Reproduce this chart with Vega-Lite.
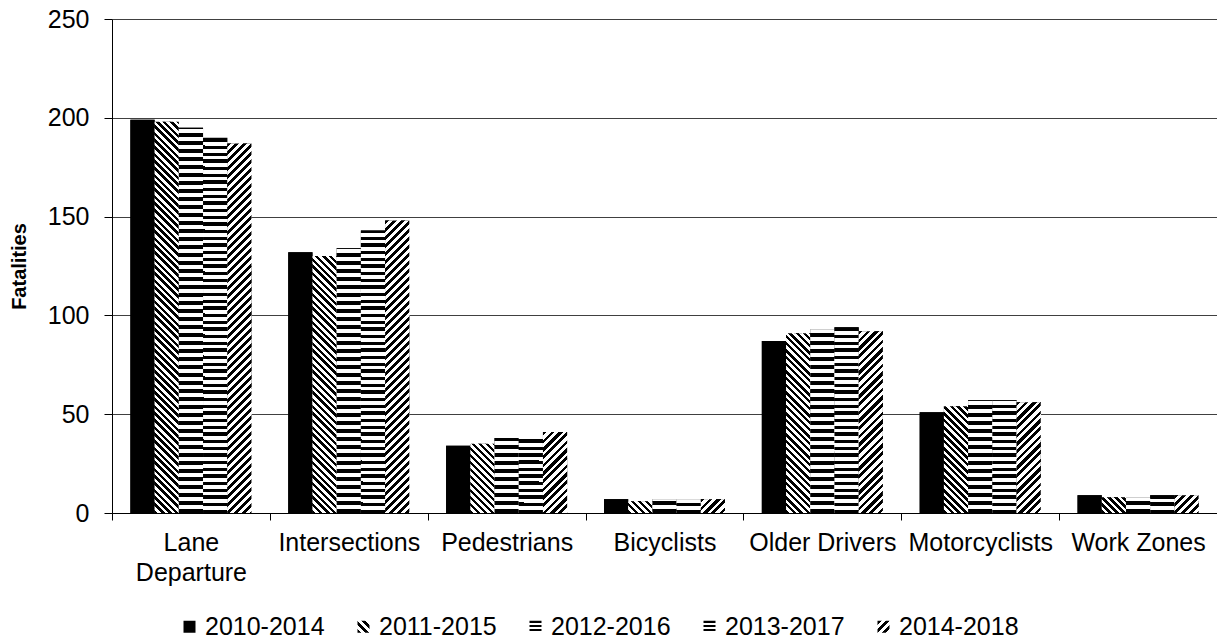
{
  "$schema": "https://vega.github.io/schema/vega-lite/v6.json",
  "width": 1105,
  "height": 494,
  "autosize": {"type": "none"},
  "padding": {"left": 112, "top": 19, "right": 0, "bottom": 131},
  "background": "#ffffff",
  "config": {
    "view": {"stroke": null},
    "font": "Liberation Sans"
  },
  "params": [
    {
      "name": "swatch",
      "value": [{"offset":0,"color":"#000"},{"offset":0.167,"color":"#000"},{"offset":0.167,"color":"#fff"},{"offset":0.333,"color":"#fff"},{"offset":0.333,"color":"#000"},{"offset":0.5,"color":"#000"},{"offset":0.5,"color":"#fff"},{"offset":0.667,"color":"#fff"},{"offset":0.667,"color":"#000"},{"offset":0.833,"color":"#000"},{"offset":0.833,"color":"#fff"},{"offset":1,"color":"#fff"}]
    },
    {
      "name": "stripes",
      "value": [
        {"offset":0,"color":"#000"},
        {"offset":0.008,"color":"#000"},{"offset":0.008,"color":"#fff"},{"offset":0.017,"color":"#fff"},{"offset":0.017,"color":"#000"},{"offset":0.025,"color":"#000"},{"offset":0.025,"color":"#fff"},{"offset":0.033,"color":"#fff"},{"offset":0.033,"color":"#000"},{"offset":0.042,"color":"#000"},{"offset":0.042,"color":"#fff"},{"offset":0.05,"color":"#fff"},{"offset":0.05,"color":"#000"},{"offset":0.058,"color":"#000"},{"offset":0.058,"color":"#fff"},{"offset":0.067,"color":"#fff"},{"offset":0.067,"color":"#000"},{"offset":0.075,"color":"#000"},{"offset":0.075,"color":"#fff"},{"offset":0.083,"color":"#fff"},{"offset":0.083,"color":"#000"},{"offset":0.092,"color":"#000"},{"offset":0.092,"color":"#fff"},{"offset":0.1,"color":"#fff"},{"offset":0.1,"color":"#000"},
        {"offset":0.108,"color":"#000"},{"offset":0.108,"color":"#fff"},{"offset":0.117,"color":"#fff"},{"offset":0.117,"color":"#000"},{"offset":0.125,"color":"#000"},{"offset":0.125,"color":"#fff"},{"offset":0.133,"color":"#fff"},{"offset":0.133,"color":"#000"},{"offset":0.142,"color":"#000"},{"offset":0.142,"color":"#fff"},{"offset":0.15,"color":"#fff"},{"offset":0.15,"color":"#000"},{"offset":0.158,"color":"#000"},{"offset":0.158,"color":"#fff"},{"offset":0.167,"color":"#fff"},{"offset":0.167,"color":"#000"},{"offset":0.175,"color":"#000"},{"offset":0.175,"color":"#fff"},{"offset":0.183,"color":"#fff"},{"offset":0.183,"color":"#000"},{"offset":0.192,"color":"#000"},{"offset":0.192,"color":"#fff"},{"offset":0.2,"color":"#fff"},{"offset":0.2,"color":"#000"},
        {"offset":0.208,"color":"#000"},{"offset":0.208,"color":"#fff"},{"offset":0.217,"color":"#fff"},{"offset":0.217,"color":"#000"},{"offset":0.225,"color":"#000"},{"offset":0.225,"color":"#fff"},{"offset":0.233,"color":"#fff"},{"offset":0.233,"color":"#000"},{"offset":0.242,"color":"#000"},{"offset":0.242,"color":"#fff"},{"offset":0.25,"color":"#fff"},{"offset":0.25,"color":"#000"},{"offset":0.258,"color":"#000"},{"offset":0.258,"color":"#fff"},{"offset":0.267,"color":"#fff"},{"offset":0.267,"color":"#000"},{"offset":0.275,"color":"#000"},{"offset":0.275,"color":"#fff"},{"offset":0.283,"color":"#fff"},{"offset":0.283,"color":"#000"},{"offset":0.292,"color":"#000"},{"offset":0.292,"color":"#fff"},{"offset":0.3,"color":"#fff"},{"offset":0.3,"color":"#000"},
        {"offset":0.308,"color":"#000"},{"offset":0.308,"color":"#fff"},{"offset":0.317,"color":"#fff"},{"offset":0.317,"color":"#000"},{"offset":0.325,"color":"#000"},{"offset":0.325,"color":"#fff"},{"offset":0.333,"color":"#fff"},{"offset":0.333,"color":"#000"},{"offset":0.342,"color":"#000"},{"offset":0.342,"color":"#fff"},{"offset":0.35,"color":"#fff"},{"offset":0.35,"color":"#000"},{"offset":0.358,"color":"#000"},{"offset":0.358,"color":"#fff"},{"offset":0.367,"color":"#fff"},{"offset":0.367,"color":"#000"},{"offset":0.375,"color":"#000"},{"offset":0.375,"color":"#fff"},{"offset":0.383,"color":"#fff"},{"offset":0.383,"color":"#000"},{"offset":0.392,"color":"#000"},{"offset":0.392,"color":"#fff"},{"offset":0.4,"color":"#fff"},{"offset":0.4,"color":"#000"},
        {"offset":0.408,"color":"#000"},{"offset":0.408,"color":"#fff"},{"offset":0.417,"color":"#fff"},{"offset":0.417,"color":"#000"},{"offset":0.425,"color":"#000"},{"offset":0.425,"color":"#fff"},{"offset":0.433,"color":"#fff"},{"offset":0.433,"color":"#000"},{"offset":0.442,"color":"#000"},{"offset":0.442,"color":"#fff"},{"offset":0.45,"color":"#fff"},{"offset":0.45,"color":"#000"},{"offset":0.458,"color":"#000"},{"offset":0.458,"color":"#fff"},{"offset":0.467,"color":"#fff"},{"offset":0.467,"color":"#000"},{"offset":0.475,"color":"#000"},{"offset":0.475,"color":"#fff"},{"offset":0.483,"color":"#fff"},{"offset":0.483,"color":"#000"},{"offset":0.492,"color":"#000"},{"offset":0.492,"color":"#fff"},{"offset":0.5,"color":"#fff"},{"offset":0.5,"color":"#000"},
        {"offset":0.508,"color":"#000"},{"offset":0.508,"color":"#fff"},{"offset":0.517,"color":"#fff"},{"offset":0.517,"color":"#000"},{"offset":0.525,"color":"#000"},{"offset":0.525,"color":"#fff"},{"offset":0.533,"color":"#fff"},{"offset":0.533,"color":"#000"},{"offset":0.542,"color":"#000"},{"offset":0.542,"color":"#fff"},{"offset":0.55,"color":"#fff"},{"offset":0.55,"color":"#000"},{"offset":0.558,"color":"#000"},{"offset":0.558,"color":"#fff"},{"offset":0.567,"color":"#fff"},{"offset":0.567,"color":"#000"},{"offset":0.575,"color":"#000"},{"offset":0.575,"color":"#fff"},{"offset":0.583,"color":"#fff"},{"offset":0.583,"color":"#000"},{"offset":0.592,"color":"#000"},{"offset":0.592,"color":"#fff"},{"offset":0.6,"color":"#fff"},{"offset":0.6,"color":"#000"},
        {"offset":0.608,"color":"#000"},{"offset":0.608,"color":"#fff"},{"offset":0.617,"color":"#fff"},{"offset":0.617,"color":"#000"},{"offset":0.625,"color":"#000"},{"offset":0.625,"color":"#fff"},{"offset":0.633,"color":"#fff"},{"offset":0.633,"color":"#000"},{"offset":0.642,"color":"#000"},{"offset":0.642,"color":"#fff"},{"offset":0.65,"color":"#fff"},{"offset":0.65,"color":"#000"},{"offset":0.658,"color":"#000"},{"offset":0.658,"color":"#fff"},{"offset":0.667,"color":"#fff"},{"offset":0.667,"color":"#000"},{"offset":0.675,"color":"#000"},{"offset":0.675,"color":"#fff"},{"offset":0.683,"color":"#fff"},{"offset":0.683,"color":"#000"},{"offset":0.692,"color":"#000"},{"offset":0.692,"color":"#fff"},{"offset":0.7,"color":"#fff"},{"offset":0.7,"color":"#000"},
        {"offset":0.708,"color":"#000"},{"offset":0.708,"color":"#fff"},{"offset":0.717,"color":"#fff"},{"offset":0.717,"color":"#000"},{"offset":0.725,"color":"#000"},{"offset":0.725,"color":"#fff"},{"offset":0.733,"color":"#fff"},{"offset":0.733,"color":"#000"},{"offset":0.742,"color":"#000"},{"offset":0.742,"color":"#fff"},{"offset":0.75,"color":"#fff"},{"offset":0.75,"color":"#000"},{"offset":0.758,"color":"#000"},{"offset":0.758,"color":"#fff"},{"offset":0.767,"color":"#fff"},{"offset":0.767,"color":"#000"},{"offset":0.775,"color":"#000"},{"offset":0.775,"color":"#fff"},{"offset":0.783,"color":"#fff"},{"offset":0.783,"color":"#000"},{"offset":0.792,"color":"#000"},{"offset":0.792,"color":"#fff"},{"offset":0.8,"color":"#fff"},{"offset":0.8,"color":"#000"},
        {"offset":0.808,"color":"#000"},{"offset":0.808,"color":"#fff"},{"offset":0.817,"color":"#fff"},{"offset":0.817,"color":"#000"},{"offset":0.825,"color":"#000"},{"offset":0.825,"color":"#fff"},{"offset":0.833,"color":"#fff"},{"offset":0.833,"color":"#000"},{"offset":0.842,"color":"#000"},{"offset":0.842,"color":"#fff"},{"offset":0.85,"color":"#fff"},{"offset":0.85,"color":"#000"},{"offset":0.858,"color":"#000"},{"offset":0.858,"color":"#fff"},{"offset":0.867,"color":"#fff"},{"offset":0.867,"color":"#000"},{"offset":0.875,"color":"#000"},{"offset":0.875,"color":"#fff"},{"offset":0.883,"color":"#fff"},{"offset":0.883,"color":"#000"},{"offset":0.892,"color":"#000"},{"offset":0.892,"color":"#fff"},{"offset":0.9,"color":"#fff"},{"offset":0.9,"color":"#000"},
        {"offset":0.908,"color":"#000"},{"offset":0.908,"color":"#fff"},{"offset":0.917,"color":"#fff"},{"offset":0.917,"color":"#000"},{"offset":0.925,"color":"#000"},{"offset":0.925,"color":"#fff"},{"offset":0.933,"color":"#fff"},{"offset":0.933,"color":"#000"},{"offset":0.942,"color":"#000"},{"offset":0.942,"color":"#fff"},{"offset":0.95,"color":"#fff"},{"offset":0.95,"color":"#000"},{"offset":0.958,"color":"#000"},{"offset":0.958,"color":"#fff"},{"offset":0.967,"color":"#fff"},{"offset":0.967,"color":"#000"},{"offset":0.975,"color":"#000"},{"offset":0.975,"color":"#fff"},{"offset":0.983,"color":"#fff"},{"offset":0.983,"color":"#000"},{"offset":0.992,"color":"#000"},{"offset":0.992,"color":"#fff"},{"offset":1,"color":"#fff"}
      ]
    }
  ],
  "data": {
    "values": [
      {"Category": "Lane Departure", "Period": "2010-2014", "Fatalities": 199},
      {"Category": "Lane Departure", "Period": "2011-2015", "Fatalities": 198},
      {"Category": "Lane Departure", "Period": "2012-2016", "Fatalities": 195},
      {"Category": "Lane Departure", "Period": "2013-2017", "Fatalities": 190},
      {"Category": "Lane Departure", "Period": "2014-2018", "Fatalities": 187},
      {"Category": "Intersections", "Period": "2010-2014", "Fatalities": 132},
      {"Category": "Intersections", "Period": "2011-2015", "Fatalities": 130},
      {"Category": "Intersections", "Period": "2012-2016", "Fatalities": 134},
      {"Category": "Intersections", "Period": "2013-2017", "Fatalities": 143},
      {"Category": "Intersections", "Period": "2014-2018", "Fatalities": 148},
      {"Category": "Pedestrians", "Period": "2010-2014", "Fatalities": 34},
      {"Category": "Pedestrians", "Period": "2011-2015", "Fatalities": 35},
      {"Category": "Pedestrians", "Period": "2012-2016", "Fatalities": 38},
      {"Category": "Pedestrians", "Period": "2013-2017", "Fatalities": 38},
      {"Category": "Pedestrians", "Period": "2014-2018", "Fatalities": 41},
      {"Category": "Bicyclists", "Period": "2010-2014", "Fatalities": 7},
      {"Category": "Bicyclists", "Period": "2011-2015", "Fatalities": 6},
      {"Category": "Bicyclists", "Period": "2012-2016", "Fatalities": 7},
      {"Category": "Bicyclists", "Period": "2013-2017", "Fatalities": 7},
      {"Category": "Bicyclists", "Period": "2014-2018", "Fatalities": 7},
      {"Category": "Older Drivers", "Period": "2010-2014", "Fatalities": 87},
      {"Category": "Older Drivers", "Period": "2011-2015", "Fatalities": 91},
      {"Category": "Older Drivers", "Period": "2012-2016", "Fatalities": 93},
      {"Category": "Older Drivers", "Period": "2013-2017", "Fatalities": 94},
      {"Category": "Older Drivers", "Period": "2014-2018", "Fatalities": 92},
      {"Category": "Motorcyclists", "Period": "2010-2014", "Fatalities": 51},
      {"Category": "Motorcyclists", "Period": "2011-2015", "Fatalities": 54},
      {"Category": "Motorcyclists", "Period": "2012-2016", "Fatalities": 57},
      {"Category": "Motorcyclists", "Period": "2013-2017", "Fatalities": 57},
      {"Category": "Motorcyclists", "Period": "2014-2018", "Fatalities": 56},
      {"Category": "Work Zones", "Period": "2010-2014", "Fatalities": 9},
      {"Category": "Work Zones", "Period": "2011-2015", "Fatalities": 8},
      {"Category": "Work Zones", "Period": "2012-2016", "Fatalities": 8},
      {"Category": "Work Zones", "Period": "2013-2017", "Fatalities": 9},
      {"Category": "Work Zones", "Period": "2014-2018", "Fatalities": 9}
    ]
  },
  "encoding": {
    "x": {
      "field": "Category",
      "type": "nominal",
      "sort": ["Lane Departure", "Intersections", "Pedestrians", "Bicyclists", "Older Drivers", "Motorcyclists", "Work Zones"],
      "scale": {"paddingInner": 0, "paddingOuter": 0},
      "axis": {
        "title": null,
        "labelAngle": 0,
        "tickBand": "extent",
        "tickSize": 7,
        "tickColor": "#000",
        "domainColor": "#000",
        "labelPadding": 10,
        "labelFontSize": 25,
        "labelFont": "Liberation Sans",
        "labelColor": "#000",
        "labelLimit": 0,
        "labelOverlap": false,
        "labelLineHeight": 30,
        "labelExpr": "datum.label === 'Lane Departure' ? ['Lane', 'Departure'] : datum.label",
        "grid": false
      }
    },
    "xOffset": {
      "field": "Period",
      "type": "nominal",
      "scale": {"paddingInner": 0, "paddingOuter": 0.76}
    },
    "y": {
      "field": "Fatalities",
      "type": "quantitative",
      "scale": {"domain": [0, 250], "nice": false},
      "axis": {
        "values": [0, 50, 100, 150, 200, 250],
        "title": "Fatalities",
        "titleFont": "Liberation Sans",
        "titleFontSize": 20,
        "titleFontWeight": "bold",
        "titleColor": "#000",
        "titlePadding": 18,
        "labelFont": "Liberation Sans",
        "labelFontSize": 25,
        "labelColor": "#000",
        "labelPadding": 15,
        "tickSize": 8,
        "tickColor": "#000",
        "domainColor": "#000",
        "gridColor": "#404040",
        "gridWidth": 1
      }
    }
  },
  "layer": [
    {
      "mark": {"type": "bar"},
      "encoding": {
        "color": {
          "field": "Period",
          "type": "nominal",
          "scale": {
            "domain": ["2010-2014", "2011-2015", "2012-2016", "2013-2017", "2014-2018"],
            "range": [
              "#000000",
              {"expr": "{gradient: 'linear', x1: 0, y1: 1, x2: 1, y2: 0, stops: swatch}"},
              {"expr": "{gradient: 'linear', x1: 0, y1: 0, x2: 0.000001, y2: 1, stops: swatch}"},
              {"expr": "{gradient: 'linear', x1: 0, y1: 0, x2: 0.000001, y2: 1, stops: swatch}"},
              {"expr": "{gradient: 'linear', x1: 0, y1: 0, x2: 1, y2: 1, stops: swatch}"}
            ]
          },
          "legend": {
            "title": null,
            "orient": "none",
            "legendX": 65,
            "legendY": 595,
            "direction": "horizontal",
            "symbolType": "square",
            "symbolSize": 144,
            "symbolStrokeWidth": 0,
            "labelFont": "Liberation Sans",
            "labelFontSize": 25,
            "labelColor": "#000",
            "labelOffset": 3,
            "labelLimit": 0,
            "columnPadding": 26
          }
        }
      }
    },
    {
      "mark": {
        "type": "bar",
        "fill": {"expr": "datum.Period === '2011-2015' ? {gradient: 'linear', x1: 0, y1: 1, x2: 420 * bandwidth('xOffset') / (pow(bandwidth('xOffset'), 2) + pow(scale('y', 0) - scale('y', datum.Fatalities), 2)), y2: 1 - 420 * (scale('y', 0) - scale('y', datum.Fatalities)) / (pow(bandwidth('xOffset'), 2) + pow(scale('y', 0) - scale('y', datum.Fatalities), 2)), stops: stripes} : datum.Period === '2012-2016' ? {gradient: 'linear', x1: 0, y1: 1, x2: 0.000001, y2: 1 - 480 / (scale('y', 0) - scale('y', datum.Fatalities)), stops: stripes} : datum.Period === '2013-2017' ? {gradient: 'linear', x1: 0, y1: 1, x2: 0.000001, y2: 1 - 420 / (scale('y', 0) - scale('y', datum.Fatalities)), stops: stripes} : datum.Period === '2014-2018' ? {gradient: 'linear', x1: 0, y1: 0, x2: 480 * bandwidth('xOffset') / (pow(bandwidth('xOffset'), 2) + pow(scale('y', 0) - scale('y', datum.Fatalities), 2)), y2: 480 * (scale('y', 0) - scale('y', datum.Fatalities)) / (pow(bandwidth('xOffset'), 2) + pow(scale('y', 0) - scale('y', datum.Fatalities), 2)), stops: stripes} : '#000'"}
      },
      "encoding": {}
    }
  ]
}
